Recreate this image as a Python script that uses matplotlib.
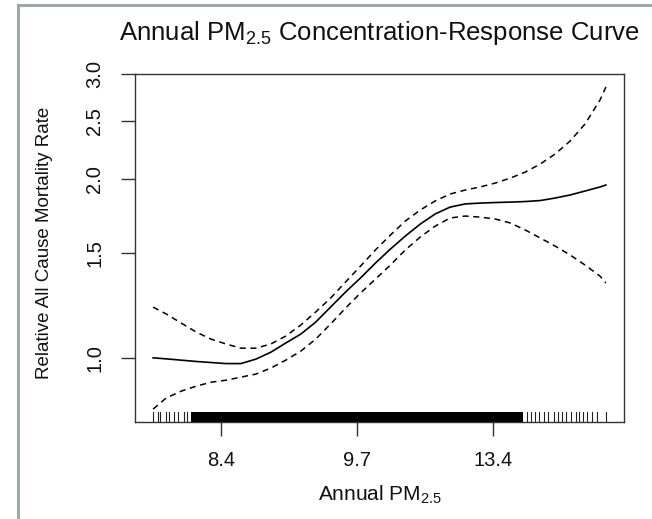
import matplotlib
matplotlib.use('Agg')
import matplotlib.pyplot as plt
import matplotlib.transforms as mtransforms
from matplotlib.lines import Line2D

plt.rcParams['font.family'] = ['Liberation Sans', 'DejaVu Sans']
plt.rcParams['mathtext.default'] = 'regular'

# position along the (rank-scaled) exposure axis, 0..10
pos = [0, 0.29, 0.62, 0.95, 1.28, 1.61, 1.94, 2.27, 2.60, 2.93, 3.26,
       3.59, 3.92, 4.25, 4.58, 4.91, 5.24, 5.57, 5.90, 6.23, 6.56, 6.89,
       7.22, 7.56, 7.89, 8.22, 8.55, 8.88, 9.21, 9.54, 9.87, 10.0]
fit = [1.001, 0.997, 0.992, 0.987, 0.983, 0.979, 0.979, 0.996, 1.023, 1.060,
       1.097, 1.149, 1.218, 1.291, 1.363, 1.444, 1.524, 1.603, 1.679, 1.746,
       1.793, 1.815, 1.821, 1.825, 1.828, 1.832, 1.839, 1.857, 1.879, 1.908,
       1.938, 1.953]
upper = [1.218, 1.186, 1.145, 1.106, 1.076, 1.056, 1.039, 1.039, 1.056, 1.089,
         1.136, 1.195, 1.261, 1.342, 1.427, 1.519, 1.609, 1.699, 1.773, 1.836,
         1.886, 1.915, 1.938, 1.968, 2.006, 2.053, 2.118, 2.202, 2.315, 2.473,
         2.713, 2.853]
lower = [0.821, 0.857, 0.880, 0.897, 0.911, 0.918, 0.929, 0.940, 0.962, 0.992,
         1.027, 1.076, 1.141, 1.213, 1.286, 1.357, 1.433, 1.519, 1.597, 1.666,
         1.719, 1.732, 1.725, 1.712, 1.686, 1.641, 1.591, 1.542, 1.490, 1.433,
         1.373, 1.337]

# rug of observations: sparse ends + dense middle block
rug_left = [0, 0.10, 0.16, 0.29, 0.35, 0.46, 0.55, 0.68, 0.75]
rug_dense = (0.84, 8.17)
rug_right = [8.26, 8.35, 8.44, 8.52, 8.63, 8.72, 8.85, 8.94, 9.03, 9.12,
             9.23, 9.34, 9.41, 9.49, 9.58, 9.69, 9.80, 10.0]

xtick_pos = [1.5, 4.5, 7.5]
xtick_lab = ['8.4', '9.7', '13.4']
ytick_val = [1.0, 1.5, 2.0, 2.5, 3.0]

W, H = 652, 519
fig = plt.figure(figsize=(W / 100, H / 100), dpi=100)

# gray frame lines at left and top
border = '#9ea8a8'
fig.add_artist(Line2D([18 / W, 18 / W], [0, 1 - 5 / H], color=border, lw=2.2,
                      transform=fig.transFigure))
fig.add_artist(Line2D([18 / W, 1], [1 - 5 / H, 1 - 5 / H], color=border, lw=2.2,
                      transform=fig.transFigure))

ax = fig.add_axes([135 / W, 1 - 422 / H, 489 / W, 348 / H])

ax.plot(pos, fit, color='black', lw=1.2)
ax.plot(pos, upper, color='black', lw=1.1, dashes=(4, 3))
ax.plot(pos, lower, color='black', lw=1.1, dashes=(4, 3))

trans = mtransforms.blended_transform_factory(ax.transData, ax.transAxes)
for r in rug_left + rug_right:
    ax.plot([r, r], [0, 0.03], color='#222222', lw=0.8, transform=trans)
ax.fill_between(list(rug_dense), 0, 0.03, color='black', lw=0, transform=trans)

ax.set_yscale('log')
ax.set_xlim(-0.4, 10.4)
ax.set_ylim(0.781, 3.0)
ax.set_yticks(ytick_val)
ax.set_yticklabels(['%.1f' % v for v in ytick_val], rotation=90, va='center')
ax.yaxis.set_minor_locator(matplotlib.ticker.NullLocator())
ax.set_xticks(xtick_pos)
ax.set_xticklabels(xtick_lab)

ax.tick_params(axis='both', direction='out', length=10, width=1.0, color='#333333',
               labelsize=14.5, labelcolor='#111111')
ax.tick_params(axis='x', pad=11)
ax.tick_params(axis='y', pad=12)
for s in ax.spines.values():
    s.set_color('#333333')
    s.set_linewidth(1.0)

fig.text(379.5 / W, 1 - 33 / H, 'Annual PM$_{2.5}$ Concentration-Response Curve',
         ha='center', va='center', fontsize=18.5, color='#111111')
fig.text(379.5 / W, 1 - 495 / H, 'Annual PM$_{2.5}$', ha='center', va='center',
         fontsize=15, color='#111111')
fig.text(45 / W, 1 - 243 / H, 'Relative All Cause Mortality Rate', ha='center',
         va='center', rotation=90, fontsize=13.5, color='#111111')

fig.savefig('out.png', dpi=100)
